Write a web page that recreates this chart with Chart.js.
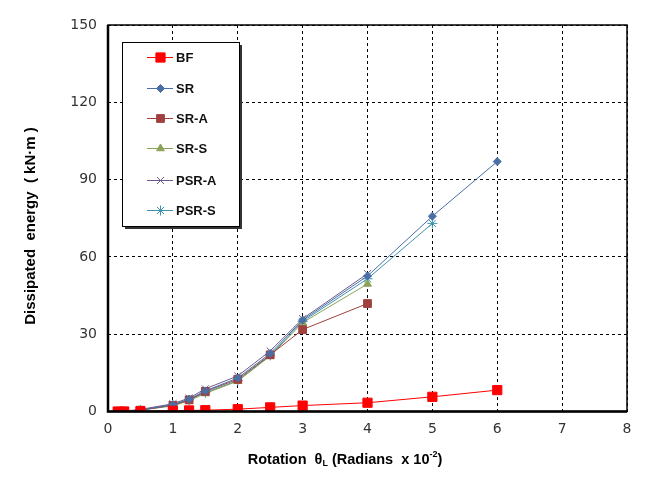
<!DOCTYPE html>
<html>
<head>
<meta charset="utf-8">
<script src="https://cdn.jsdelivr.net/npm/chart.js@4/dist/chart.umd.min.js"></script>
<style>
  html, body { margin: 0; padding: 0; background: #fff; }
  #wrap { width: 646px; height: 489px; }
</style>
</head>
<body>
<div id="wrap"><canvas id="chart" width="646" height="489"></canvas></div>
<script>
    // rotation (radians x 10^-2)
    const rotations = [0.15, 0.25, 0.5, 1.0, 1.25, 1.5, 2.0, 2.5, 3.0, 4.0, 5.0, 6.0];

    const bf = [0, 0, 0.1, 0.3, 0.4, 0.5, 0.9, 1.6, 2.3, 3.4, 5.7, 8.3];
    const sr = [0, 0.1, 0.6, 2.6, 4.8, 8.0, 13.0, 22.5, 35.5, 52.6, 75.8, 97.0];
    const srA = [0, 0.1, 0.5, 2.4, 4.5, 7.8, 12.5, 22.0, 31.8, 41.9];
    const srS = [0, 0.1, 0.5, 2.2, 4.2, 7.0, 11.8, 21.5, 34.5, 49.5];
    const psrA = [0, 0.2, 0.8, 3.0, 5.2, 8.8, 13.8, 23.5, 36.0, 53.5];
    const psrS = [0, 0.1, 0.6, 2.5, 4.5, 7.3, 12.0, 21.8, 35.0, 51.5, 73.0];

    const xTicks = [0, 1, 2, 3, 4, 5, 6, 7, 8];
    const yTicks = [0, 30, 60, 90, 120, 150];

    function toPoints(values) {
        return values.map((v, i) => ({ x: rotations[i], y: v }));
    }

    function series(label, values, color, pointStyle, radius) {
        return {
            label,
            data: toPoints(values),
            borderColor: color,
            backgroundColor: color,
            pointBorderColor: color,
            pointBackgroundColor: color,
            borderWidth: 1,
            pointStyle,
            pointRadius: radius,
            pointBorderWidth: 1,
            tension: 0,
        };
    }

    const datasets = [
        series('BF', bf, '#ff0000', 'rect', 6.5),
        series('SR', sr, '#4a6fa5', 'rectRot', 4),
        series('SR-A', srA, '#a0403e', 'rect', 5.5),
        series('SR-S', srS, '#8aa356', 'triangle', 4.5),
        series('PSR-A', psrA, '#6c5a8e', 'crossRot', 5),
        series('PSR-S', psrS, '#3f92ad', 'star', 5),
    ];
    datasets.forEach((d, i) => { d.order = i; });

    const framePlugin = {
        id: 'frame',
        afterDraw(chart) {
            const { ctx, chartArea: a } = chart;
            ctx.save();
            ctx.strokeStyle = '#000';
            ctx.lineWidth = 1.5;
            ctx.strokeRect(a.left, a.top, a.right - a.left, a.bottom - a.top);
            ctx.lineWidth = 2.5;
            ctx.beginPath();
            ctx.moveTo(a.left, a.top);
            ctx.lineTo(a.left, a.bottom);
            ctx.lineTo(a.right, a.bottom);
            ctx.stroke();

            // legend box
            const lx = 122, ly = 42, lw = 117, lh = 184;
            ctx.fillStyle = '#333';
            ctx.fillRect(lx + 3, ly + 3, lw, lh);
            ctx.fillStyle = '#fff';
            ctx.fillRect(lx, ly, lw, lh);
            ctx.lineWidth = 1;
            ctx.strokeStyle = '#000';
            ctx.strokeRect(lx + 0.5, ly + 0.5, lw, lh);

            const rows = [57, 88, 118, 148, 180, 210];
            chart.data.datasets.forEach((ds, i) => {
                const y = rows[i];
                ctx.strokeStyle = ds.borderColor;
                ctx.lineWidth = 1;
                ctx.beginPath();
                ctx.moveTo(147, y + 0.5);
                ctx.lineTo(173, y + 0.5);
                ctx.stroke();
                ctx.fillStyle = ds.backgroundColor;
                Chart.helpers.drawPoint(ctx, {
                    pointStyle: ds.pointStyle,
                    radius: ds.pointRadius,
                    rotation: 0,
                    borderWidth: 1,
                }, 160.5, y + 0.5);
                ctx.fillStyle = '#111';
                ctx.font = 'bold 13px "Liberation Sans", Arial, sans-serif';
                ctx.textBaseline = 'middle';
                ctx.textAlign = 'left';
                ctx.fillText(ds.label, 176, y + 1);
            });

            // axis titles
            ctx.fillStyle = '#000';
            ctx.font = 'bold 15px "Liberation Sans", Arial, sans-serif';
            ctx.textBaseline = 'middle';
            ctx.save();
            ctx.translate(31, 226);
            ctx.rotate(-Math.PI / 2);
            ctx.textAlign = 'center';
            ctx.fillText('Dissipated  energy  ( kN·m )', 0, 0);
            ctx.restore();

            const big = 'bold 14.5px "Liberation Sans", Arial, sans-serif';
            const small = 'bold 9px "Liberation Sans", Arial, sans-serif';
            const parts = [
                ['Rotation  θ', big, 0],
                ['L', small, 4],
                [' (Radians  x 10', big, 0],
                ['-2', small, -5],
                [')', big, 0],
            ];
            let total = 0;
            parts.forEach(([t, f]) => { ctx.font = f; total += ctx.measureText(t).width; });
            let x = 345 - total / 2;
            ctx.textAlign = 'left';
            parts.forEach(([t, f, dy]) => {
                ctx.font = f;
                ctx.fillText(t, x, 460 + dy);
                x += ctx.measureText(t).width;
            });
            ctx.restore();
        },
    };

    new Chart(document.getElementById('chart').getContext('2d'), {
        type: 'line',
        data: { datasets },
        options: {
            responsive: false,
            animation: false,
            layout: { padding: { top: 25, right: 19, left: 0, bottom: 0 } },
            plugins: { legend: { display: false }, tooltip: { enabled: false } },
            scales: {
                x: {
                    type: 'linear',
                    min: xTicks[0],
                    max: xTicks[xTicks.length - 1],
                    afterBuildTicks(scale) { scale.ticks = xTicks.map((v) => ({ value: v })); },
                    afterFit(scale) { scale.height = 77.5; },
                    grid: { color: '#000', lineWidth: 1, drawTicks: false },
                    border: { display: false, dash: [3, 3] },
                    ticks: {
                        padding: 9,
                        color: '#333',
                        font: { family: '"DejaVu Sans", sans-serif', size: 14, weight: 'normal' },
                    },
                },
                y: {
                    min: yTicks[0],
                    max: yTicks[yTicks.length - 1],
                    afterBuildTicks(scale) { scale.ticks = yTicks.map((v) => ({ value: v })); },
                    afterFit(scale) { scale.width = 108; },
                    grid: { color: '#000', lineWidth: 1, drawTicks: false },
                    border: { display: false, dash: [3, 3] },
                    ticks: {
                        padding: 11,
                        color: '#333',
                        font: { family: '"DejaVu Sans", sans-serif', size: 14, weight: 'normal' },
                    },
                },
            },
        },
        plugins: [framePlugin],
    });
</script>
</body>
</html>
